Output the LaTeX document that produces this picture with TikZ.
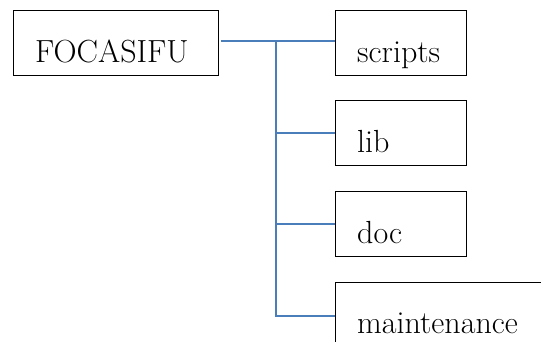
\documentclass[tikz,border=0pt]{standalone}
\definecolor{linkblue}{HTML}{4A7EBB}
\tikzset{
  box/.style={draw=black, line width=0.9pt, rectangle, inner sep=0pt, minimum width=131pt, minimum height=65pt},
  lbl/.style={anchor=base west, inner sep=0pt, font=\fontsize{32}{36}\selectfont},
  link/.style={draw=linkblue, line width=1.5pt}
}
\begin{document}
\begin{tikzpicture}[x=1pt,y=-1pt]
\useasboundingbox (0,0) rectangle (541,342);
\clip (0,0) rectangle (541,342);
\node[box, minimum width=205pt] (root) at (115.8,42.5) {};
\node[box] (scripts) at (401,42.5) {};
\node[box] (lib) at (401,133) {};
\node[box] (doc) at (401,224) {};
\node[box, minimum width=240pt, minimum height=68pt] (maint) at (455,316) {};
\node[lbl] (troot) at (35,62.5) {FOCASIFU};
\node[lbl] (tscripts) at (357,62.5) {scripts};
\node[lbl] (tlib) at (357,153) {lib};
\node[lbl] (tdoc) at (357,243) {doc};
\node[lbl] (tmaint) at (357,333) {maintenance};
\coordinate (top) at (276,41);
\coordinate (bottom) at (276,317);
\draw[link, shorten <=2pt] (root.east |- top) -- (scripts.west |- top);
\draw[link] (top) -- (bottom);
\draw[link] (top |- lib.west) -- (lib.west);
\draw[link] (top |- doc.west) -- (doc.west);
\draw[link] (top |- maint.west) -- (maint.west);
\end{tikzpicture}
\end{document}
